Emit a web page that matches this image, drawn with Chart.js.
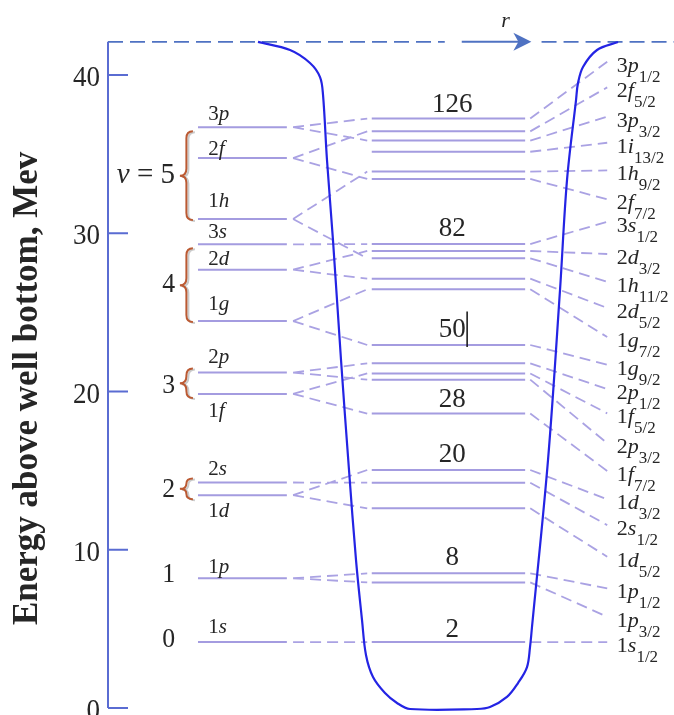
<!DOCTYPE html>
<html>
<head>
<meta charset="utf-8">
<script src="https://cdn.jsdelivr.net/npm/chart.js@4.4.0/dist/chart.umd.min.js"></script>
<style>
  html, body { margin: 0; padding: 0; background: #fff; }
  #wrap { width: 674px; height: 715px; position: relative; }
</style>
</head>
<body>
<div id="wrap"><canvas id="shellChart"></canvas></div>
<script>
// energy axis (MeV above well bottom)
const yTicks = [0, 10, 20, 30, 40];
const wellTopE = 42.1;

// left column: oscillator levels without spin-orbit
const nlNames  = ['1s', '1p', '1d', '2s', '1f', '2p', '1g', '2d', '3s', '1h', '2f', '3p'];
const nlEnergy = [4.17, 8.2, 13.45, 14.25, 19.85, 21.2, 24.45, 27.7, 29.3, 30.9, 34.75, 36.7];
const nlLabelE = [4.74, 8.51, 12.09, 14.72, 18.39, 21.78, 25.15, 27.99, 29.69, 31.68, 34.94, 37.16];

// oscillator quantum number and the levels it groups
const oscNames  = ['0', '1', '2', '3', '4', '5'];
const oscLabelE = [3.87, 7.98, 13.35, 19.89, 26.3, 33.17];
const oscGroups = [['1s'], ['1p'], ['2s', '1d'], ['2p', '1f'], ['3s', '2d', '1g'], ['3p', '2f', '1h']];

// centre column: spin-orbit split levels
const soNames  = ['1s', '1p', '1p', '1d', '2s', '1d', '1f', '2p', '1f', '2p', '1g', '1g', '2d', '1h', '2d', '3s', '2f', '1h', '1i', '3p', '2f', '3p'];
const soJ      = ['1/2', '3/2', '1/2', '5/2', '1/2', '3/2', '7/2', '3/2', '5/2', '1/2', '9/2', '7/2', '5/2', '11/2', '3/2', '1/2', '7/2', '9/2', '13/2', '3/2', '5/2', '1/2'];
const soEnergy = [4.17, 7.94, 8.51, 12.62, 14.24, 15.04, 18.61, 20.75, 21.14, 21.78, 22.94, 26.46, 27.13, 28.42, 28.88, 29.32, 33.43, 33.90, 35.15, 35.86, 36.44, 37.25];
const soLabelE = [4.17, 5.77, 7.56, 9.56, 11.56, 13.19, 14.98, 16.73, 18.62, 20.16, 21.69, 23.44, 25.28, 26.94, 28.69, 30.73, 32.15, 33.97, 35.72, 37.37, 39.22, 40.84];

// closed shells
const magicNumbers = ['2', '8', '20', '28', '50', '82', '126'];
const magicE       = [4.5, 9.04, 15.56, 19.04, 23.46, 29.83, 37.68];

// potential well, r in arbitrary units 0..100
const wellR = [26.5, 32.16, 35.69, 37.46, 37.99, 38.69, 39.75, 41.17, 42.58, 43.82, 44.88, 45.58, 46.82, 48.94, 51.06, 53.36,
               65.19, 67.49, 70.49, 72.44, 74.03, 74.56, 74.91, 77.74, 79.86, 81.1, 82.69, 83.04, 83.92, 86.4, 90.11];
const wellE = [42.09, 41.58, 40.76, 39.87, 38.74, 34.63, 29.57, 21.99, 15.04, 9.35, 5.56, 3.35, 1.96, 0.95, 0.32, -0.06,
               -0.06, 0.06, 0.7, 1.58, 2.59, 3.85, 5.12, 15.67, 26.41, 33.37, 38.42, 39.49, 40.51, 41.58, 42.09];

// horizontal layout of the columns (r units)
const COL = {
  nlFrom: 15.9, nlTo: 31.6, linkFrom: 32.7, linkTo: 45.8,
  soFrom: 46.6, soTo: 73.7, outFrom: 74.6, outTo: 88.2,
  nlLabel: 17.7, soLabel: 89.9, osc: 11.84, magic: 60.8,
  braceTip: 12.7, braceEnd: 15.0,
  dashL: 59.5, arrowFrom: 62.5, arrowTo: 74.8, dashR: 76.6, rLabel: 69.5
};

const LEVEL = '#a49ce0';
const LINK = '#aaa2e3';
const AXIS = '#5a6cd2';
const TOP = '#4f72c2';
const WELL = '#2424e4';
const INK = '#262626';
const SERIF = '"Liberation Serif", "Times New Roman", serif';

function seg(x1, y1, x2, y2, out) {
  out.push({ x: x1, y: y1 }, { x: x2, y: y2 }, { x: x2, y: null });
}

const levelPts = [];
nlEnergy.forEach(e => seg(COL.nlFrom, e, COL.nlTo, e, levelPts));
soEnergy.forEach(e => seg(COL.soFrom, e, COL.soTo, e, levelPts));

const linkPts = [];
soEnergy.forEach((e, i) => {
  const p = nlNames.indexOf(soNames[i]);
  if (p >= 0) seg(COL.linkFrom, nlEnergy[p], COL.linkTo, e, linkPts);
  seg(COL.outFrom, e, COL.outTo, soLabelE[i], linkPts);
});

const topPts = [];
seg(0, wellTopE, COL.dashL, wellTopE, topPts);
seg(COL.dashR, wellTopE, 100, wellTopE, topPts);

const wellPts = wellR.map((r, i) => ({ x: r, y: wellE[i] }));

function runs(ctx, parts, x, y, align, sx) {
  sx = sx || 1;
  let total = 0;
  parts.forEach(p => { ctx.font = p.f; p.w = ctx.measureText(p.t).width; total += p.w; });
  ctx.save();
  ctx.translate(x, y);
  ctx.scale(sx, 1);
  let cx = align === 'right' ? -total : align === 'center' ? -total / 2 : 0;
  parts.forEach(p => { ctx.font = p.f; ctx.fillText(p.t, cx, p.dy || 0); cx += p.w; });
  ctx.restore();
}

function brace(ctx, xt, xe, top, bot) {
  const xm = (xt + xe) / 2, ym = (top + bot) / 2;
  const r = Math.min(7, (bot - top) / 4);
  ctx.beginPath();
  ctx.moveTo(xe, top);
  ctx.quadraticCurveTo(xm, top, xm, top + r);
  ctx.lineTo(xm, ym - r);
  ctx.quadraticCurveTo(xm, ym, xt, ym);
  ctx.quadraticCurveTo(xm, ym, xm, ym + r);
  ctx.lineTo(xm, bot - r);
  ctx.quadraticCurveTo(xm, bot, xe, bot);
  ctx.stroke();
}

const annotate = {
  id: 'annotate',
  afterDatasetsDraw(chart) {
    const { ctx, chartArea, scales: { x, y } } = chart;
    const L = chartArea.left;
    ctx.save();

    // y axis, ticks pointing inward
    ctx.strokeStyle = AXIS;
    ctx.lineWidth = 2;
    ctx.beginPath();
    ctx.moveTo(L, y.getPixelForValue(wellTopE));
    ctx.lineTo(L, y.getPixelForValue(0));
    yTicks.forEach(t => {
      const ty = y.getPixelForValue(t);
      ctx.moveTo(L, ty);
      ctx.lineTo(L + 20, ty);
    });
    ctx.stroke();

    ctx.fillStyle = INK;
    ctx.textBaseline = 'alphabetic';
    yTicks.forEach(t => {
      runs(ctx, [{ t: String(t), f: '30px ' + SERIF }], L - 8, y.getPixelForValue(t) + 11, 'right', 0.9);
    });

    // axis title
    ctx.save();
    ctx.translate(37, y.getPixelForValue(20.2));
    ctx.rotate(-Math.PI / 2);
    ctx.font = 'bold 35px ' + SERIF;
    ctx.textAlign = 'center';
    ctx.fillText('Energy above well bottom, Mev', 0, 0);
    ctx.restore();

    // arrow r on the top line
    const ay = y.getPixelForValue(wellTopE);
    const a0 = x.getPixelForValue(COL.arrowFrom), a1 = x.getPixelForValue(COL.arrowTo);
    ctx.strokeStyle = TOP;
    ctx.fillStyle = TOP;
    ctx.lineWidth = 2;
    ctx.beginPath();
    ctx.moveTo(a0, ay);
    ctx.lineTo(a1 - 10, ay);
    ctx.stroke();
    ctx.beginPath();
    ctx.moveTo(a1, ay);
    ctx.lineTo(a1 - 18, ay - 9);
    ctx.lineTo(a1 - 13, ay);
    ctx.lineTo(a1 - 18, ay + 9);
    ctx.closePath();
    ctx.fill();
    ctx.fillStyle = INK;
    runs(ctx, [{ t: 'r', f: 'italic 22px ' + SERIF }], x.getPixelForValue(COL.rLabel), ay - 15, 'left');

    // left level labels
    nlNames.forEach((n, i) => {
      runs(ctx, [{ t: n[0], f: '21px ' + SERIF }, { t: n.slice(1), f: 'italic 21px ' + SERIF }],
        x.getPixelForValue(COL.nlLabel), y.getPixelForValue(nlLabelE[i]), 'left');
    });

    // oscillator numbers
    oscNames.forEach((n, i) => {
      const last = i === oscNames.length - 1;
      const parts = last
        ? [{ t: 'v', f: 'italic 29px ' + SERIF }, { t: ' = ' + n, f: '29px ' + SERIF }]
        : [{ t: n, f: '28px ' + SERIF }];
      runs(ctx, parts, x.getPixelForValue(COL.osc), y.getPixelForValue(oscLabelE[i]), 'right', last ? 1 : 0.92);
    });

    // braces
    const xt = x.getPixelForValue(COL.braceTip), xe = x.getPixelForValue(COL.braceEnd);
    oscGroups.forEach(g => {
      if (g.length < 2) return;
      const es = g.map(n => nlEnergy[nlNames.indexOf(n)]);
      let top = y.getPixelForValue(Math.max(...es)), bot = y.getPixelForValue(Math.min(...es));
      if (g.length > 2) { top += 4; bot += 1; } else { top -= 4; bot += 4; }
      ctx.lineWidth = 2;
      ctx.strokeStyle = 'rgba(150,150,150,0.5)';
      brace(ctx, xt + 2, xe + 2, top + 1, bot + 1);
      ctx.strokeStyle = '#bb5a33';
      brace(ctx, xt, xe, top, bot);
    });

    // magic numbers
    ctx.fillStyle = INK;
    magicNumbers.forEach((m, i) => {
      runs(ctx, [{ t: m, f: '27px ' + SERIF }], x.getPixelForValue(COL.magic), y.getPixelForValue(magicE[i]), 'center');
    });
    // text cursor after "50"
    ctx.strokeStyle = '#111';
    ctx.lineWidth = 1.5;
    const cx = x.getPixelForValue(COL.magic) + 15;
    ctx.beginPath();
    ctx.moveTo(cx, y.getPixelForValue(magicE[4] + 1.6));
    ctx.lineTo(cx, y.getPixelForValue(magicE[4] - 0.65));
    ctx.stroke();

    // right labels with j subscripts
    soNames.forEach((n, i) => {
      runs(ctx, [
        { t: n[0], f: '22px ' + SERIF },
        { t: n.slice(1), f: 'italic 22px ' + SERIF },
        { t: soJ[i], f: '17px ' + SERIF, dy: 10 }
      ], x.getPixelForValue(COL.soLabel), y.getPixelForValue(soLabelE[i]) + 10, 'left');
    });

    ctx.restore();
  }
};

new Chart(document.getElementById('shellChart'), {
  type: 'line',
  data: {
    datasets: [
      { label: 'well', data: wellPts, borderColor: WELL, borderWidth: 2.2, tension: 0.35, pointRadius: 0 },
      { label: 'levels', data: levelPts, borderColor: LEVEL, borderWidth: 2, pointRadius: 0 },
      { label: 'links', data: linkPts, borderColor: LINK, borderWidth: 1.8, borderDash: [11, 6], pointRadius: 0 },
      { label: 'top', data: topPts, borderColor: TOP, borderWidth: 1.8, borderDash: [15, 7], pointRadius: 0 }
    ]
  },
  options: {
    responsive: true,
    maintainAspectRatio: false,
    animation: false,
    events: [],
    layout: { padding: { left: 108, right: 0, top: 0, bottom: 0 } },
    plugins: { legend: { display: false }, tooltip: { enabled: false } },
    scales: {
      x: { type: 'linear', min: 0, max: 100, display: false },
      y: { type: 'linear', min: -0.44, max: 44.74, display: false }
    }
  },
  plugins: [annotate]
});
</script>
</body>
</html>
